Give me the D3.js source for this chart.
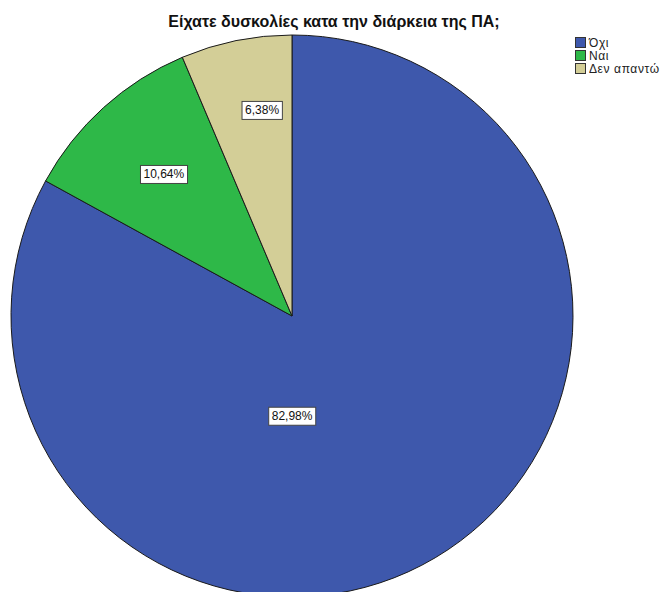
<!DOCTYPE html>
<html><head><meta charset="utf-8">
<script src="https://cdn.jsdelivr.net/npm/d3@7"></script>
<style>body{margin:0;background:#fff;}svg{display:block;}</style>
</head><body>
<svg id="c" width="667" height="592"></svg>
<script>
const title = "Είχατε δυσκολίες κατα την διάρκεια της ΠΑ;";
const categories = ["Όχι", "Ναι", "Δεν απαντώ"];
const values = [82.98, 10.64, 6.38];
const valueLabels = ["82,98%", "10,64%", "6,38%"];
const colors = ["#3E58AC", "#2EB848", "#D3CE97"];
// label placement: radius fraction and angle shift (degrees clockwise)
const labelRadius = [0.356, 0.68, 0.74];
const labelAngleShift = [30.6, 0, 3.2];

const svg = d3.select("#c");
const cx = 292, cy = 316, R = 281;

svg.append("text").attr("x", 334).attr("y", 27)
  .attr("text-anchor", "middle")
  .attr("font-family", "Liberation Sans, Arial, sans-serif")
  .attr("font-weight", "bold").attr("font-size", 16).attr("fill", "#111")
  .text(title);

const data = categories.map((c, i) => ({c, v: values[i], i}));
const pie = d3.pie().value(d => d.v).sort(null);
const arc = d3.arc().innerRadius(0).outerRadius(R);
const arcs = pie(data);
const g = svg.append("g").attr("transform", `translate(${cx},${cy})`);
g.selectAll("path").data(arcs).join("path")
  .attr("d", arc).attr("fill", d => colors[d.data.i])
  .attr("stroke", "#1a1a1a").attr("stroke-width", 1);

arcs.forEach(a => {
  const i = a.data.i;
  const ang = (a.startAngle + a.endAngle) / 2 + labelAngleShift[i] * Math.PI / 180;
  const r = labelRadius[i] * R;
  const x = r * Math.sin(ang), y = -r * Math.cos(ang);
  const lg = g.append("g").attr("transform", `translate(${x},${y})`);
  const t = lg.append("text").attr("text-anchor", "middle").attr("dy", "0.35em")
    .attr("font-family", "Liberation Sans, Arial, sans-serif").attr("font-size", 12)
    .attr("fill", "#111").text(valueLabels[i]);
  const bb = t.node().getBBox();
  lg.insert("rect", "text").attr("x", bb.x - 3).attr("y", bb.y - 2)
    .attr("width", bb.width + 6).attr("height", bb.height + 4)
    .attr("fill", "#fff").attr("stroke", "#444").attr("stroke-width", 1);
});

const leg = svg.append("g").attr("transform", "translate(575,37)");
categories.forEach((c, i) => {
  const row = leg.append("g").attr("transform", `translate(0,${i * 13})`);
  row.append("rect").attr("x", 0.5).attr("y", 0.5).attr("width", 10).attr("height", 10)
    .attr("fill", colors[i]).attr("stroke", "#333").attr("stroke-width", 1);
  row.append("text").attr("x", 14).attr("y", 10)
    .attr("font-family", "Liberation Sans, Arial, sans-serif").attr("font-size", 12)
    .attr("letter-spacing", 0.6)
    .attr("fill", "#222").text(c);
});
</script>
</body></html>
